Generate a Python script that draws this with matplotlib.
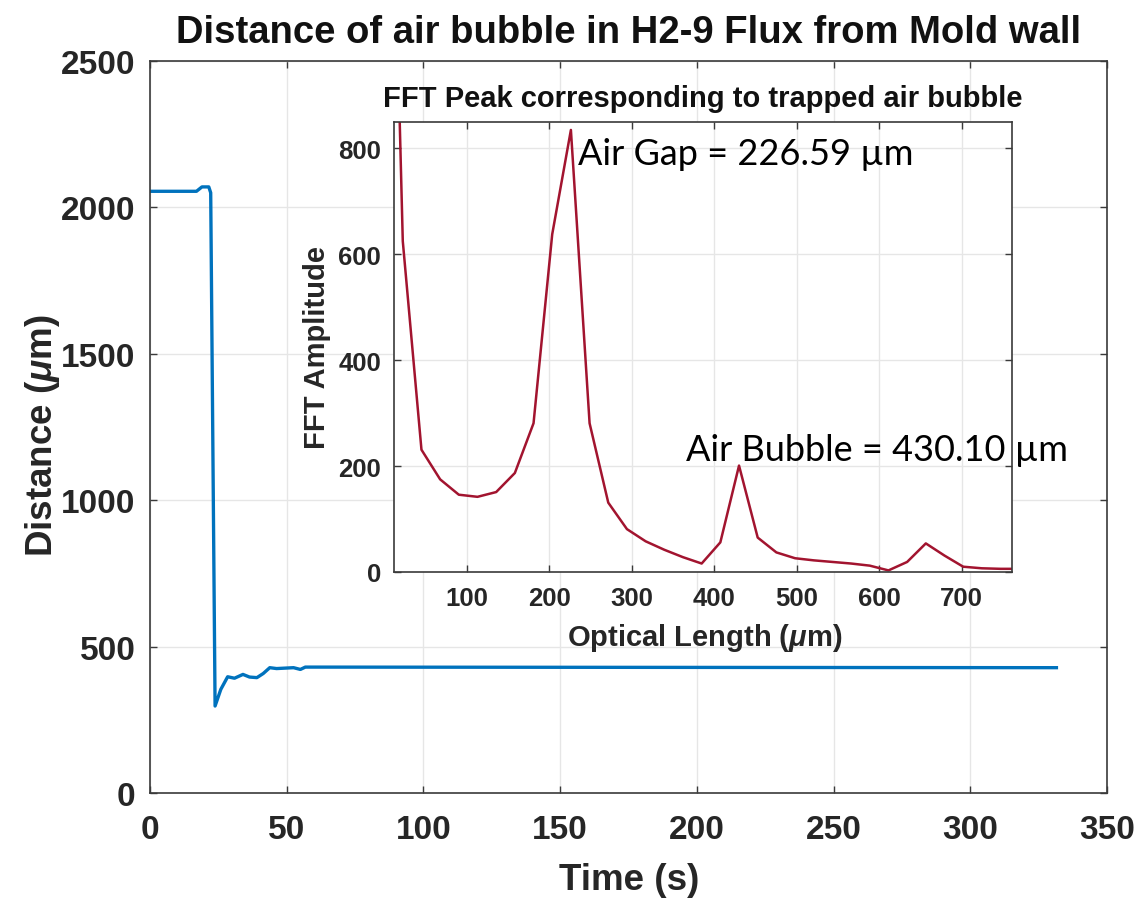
import matplotlib
matplotlib.use("Agg")
import matplotlib.pyplot as plt
import numpy as np

# ---- main series: distance vs time ----
time_s = [0, 17, 19, 21.5, 22.2, 23.8, 25.9, 28.4, 30.9, 34, 36.4, 39.1, 41.4,
          43.8, 46.3, 52.5, 55, 56.8, 331.5]
distance_um = [2055, 2055, 2070, 2070, 2050, 297, 354, 397, 392, 405, 396, 394,
               408, 428, 425, 428, 422, 430, 428]

# ---- inset series: FFT amplitude vs optical length ----
fft_step = 22.64
fft_amp = [2000, 625, 231, 175, 146, 142, 151, 187, 281, 638, 835, 281, 131, 81,
           58, 42, 28, 16, 56, 201, 65, 37, 26, 22, 19, 16, 12, 3, 19, 54, 31,
           10, 7, 6, 6]
optical_len = [i * fft_step for i in range(len(fft_amp))]

main_xticks = [0, 50, 100, 150, 200, 250, 300, 350]
main_yticks = [0, 500, 1000, 1500, 2000, 2500]
inset_xticks = [100, 200, 300, 400, 500, 600, 700]
inset_yticks = [0, 200, 400, 600, 800]

plt.rcParams['font.family'] = ['Liberation Sans', 'DejaVu Sans']
plt.rcParams['font.weight'] = 'bold'
plt.rcParams['mathtext.fontset'] = 'custom'
plt.rcParams['mathtext.it'] = 'Liberation Sans:italic:bold'
plt.rcParams['mathtext.rm'] = 'Liberation Sans:bold'

W, H = 1147, 903
fig = plt.figure(figsize=(W / 100, H / 100), dpi=100)

txt = '#262626'
spine = '#3a3a3a'
gridc = '#e6e6e6'


def px_axes(l, r, t, b):
    return [l / W, (H - b) / H, (r - l) / W, (b - t) / H]


def style(ax, size, xpad, ypad):
    for s in ax.spines.values():
        s.set_color(spine)
        s.set_linewidth(1.2)
    ax.tick_params(direction='in', top=True, right=True, length=5,
                   width=1, colors=spine, labelcolor=txt, labelsize=size)
    ax.tick_params(axis='x', pad=xpad)
    ax.tick_params(axis='y', pad=ypad)
    ax.grid(True, color=gridc, linewidth=1)
    ax.set_axisbelow(True)
    for lab in ax.get_xticklabels() + ax.get_yticklabels():
        lab.set_fontweight('bold')


ax = fig.add_axes(px_axes(150, 1107, 62, 794))
ax.plot(time_s, distance_um, color='#0072BD', linewidth=2.4)
ax.set_xlim(0, 350)
ax.set_ylim(0, 2500)
ax.set_xticks(main_xticks)
ax.set_yticks(main_yticks)
style(ax, 24, 15, 10.5)
ax.set_xlabel('Time (s)', fontsize=26.5, fontweight='bold', color=txt, va='center')
ax.xaxis.set_label_coords(0.5005, -0.1175)
ax.set_ylabel(r'Distance ($\mu$m)', fontsize=26.5, fontweight='bold', color=txt, va='center')
ax.yaxis.set_label_coords(-0.112, 0.49)
ax.set_title('Distance of air bubble in H2-9 Flux from Mold wall',
             fontsize=27.5, fontweight='bold', color='#111111', y=1.0396,
             va='center', pad=0)

ins = fig.add_axes(px_axes(394, 1012, 123, 573))
ins.set_facecolor('white')
ins.plot(optical_len, fft_amp, color='#A2142F', linewidth=1.8)
ins.set_xlim(12, 761)
ins.set_ylim(0, 850)
ins.set_xticks(inset_xticks)
ins.set_yticks(inset_yticks)
style(ins, 18.5, 10, 9.4)
ins.set_xlabel(r'Optical Length ($\mu$m)', fontsize=21, fontweight='bold', color=txt, va='center')
ins.xaxis.set_label_coords(0.502, -0.144)
ins.set_ylabel('FFT Amplitude', fontsize=21, fontweight='bold', color=txt, va='center')
ins.yaxis.set_label_coords(-0.125, 0.501)
ins.set_title('FFT Peak corresponding to trapped air bubble', fontsize=21,
              fontweight='bold', color='#111111', y=1.0533, va='center', pad=0)

ins.text(235, 790, 'Air Gap = 226.59 µm', fontsize=26, fontweight='normal',
         family=['Lato', 'DejaVu Sans'], color='black', ha='left', va='center',
         clip_on=False)
ins.text(366, 232, 'Air Bubble = 430.10 µm', fontsize=26, fontweight='normal',
         family=['Lato', 'DejaVu Sans'], color='black', ha='left', va='center',
         clip_on=False)

fig.savefig('out.png', dpi=100, facecolor='white')
